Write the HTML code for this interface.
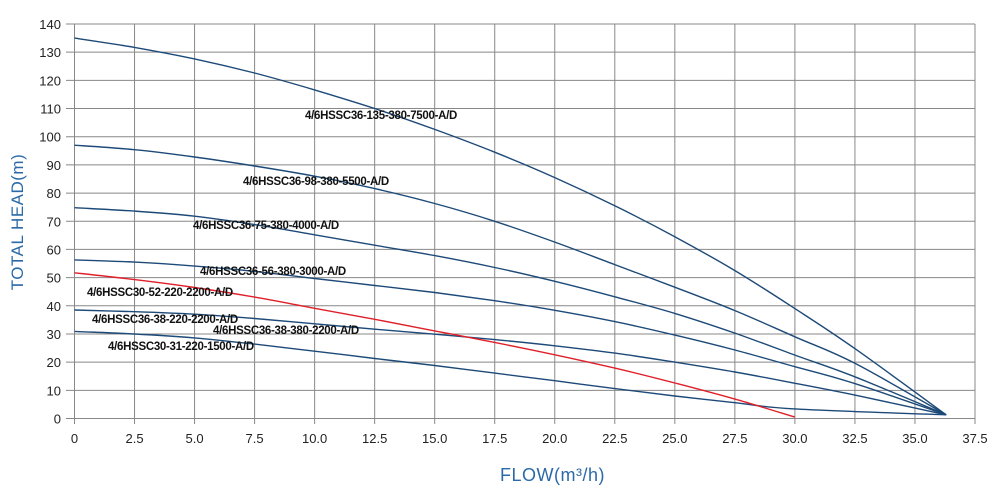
<!DOCTYPE html>
<html><head><meta charset="utf-8"><style>
body{margin:0;background:#fff;}
svg{display:block;font-family:"Liberation Sans",Arial,sans-serif;}
.t{font-size:13px;fill:#222;}
.l{font-size:11.5px;font-weight:bold;fill:#111;letter-spacing:-0.3px;}
</style></head><body>
<svg id="s" width="1000" height="500" viewBox="0 0 1000 500" xmlns="http://www.w3.org/2000/svg">
<g id="grid" stroke="#888" stroke-width="1"></g>
<g id="curves" fill="none" stroke-width="1.4"></g>
<g id="ticks"></g>
<text class="l" x="305" y="119">4/6HSSC36-135-380-7500-A/D</text>
<text class="l" x="243" y="185">4/6HSSC36-98-380-5500-A/D</text>
<text class="l" x="193" y="229">4/6HSSC36-75-380-4000-A/D</text>
<text class="l" x="200" y="275">4/6HSSC36-56-380-3000-A/D</text>
<text class="l" x="87" y="296">4/6HSSC30-52-220-2200-A/D</text>
<text class="l" x="92" y="323">4/6HSSC36-38-220-2200-A/D</text>
<text class="l" x="213" y="334">4/6HSSC36-38-380-2200-A/D</text>
<text class="l" x="108" y="350">4/6HSSC30-31-220-1500-A/D</text>
<text x="23" y="222" transform="rotate(-90 23 222)" text-anchor="middle" style="font-size:17px;fill:#2a6aa8;letter-spacing:0.5px">TOTAL HEAD(m)</text>
<text x="500" y="481" style="font-size:18px;fill:#2a6aa8;letter-spacing:0.5px">FLOW(m³/h)</text>
</svg>
<script>
var ns="http://www.w3.org/2000/svg";
function X(q){return 74.5+q*(975-74.5)/37.5;}
function Y(h){return 418.5-h*(418.5-24)/140;}
var g=document.getElementById('grid'),t=document.getElementById('ticks'),c=document.getElementById('curves');
function el(p,n,a,txt){var e=document.createElementNS(ns,n);for(var k in a)e.setAttribute(k,a[k]);if(txt)e.textContent=txt;p.appendChild(e);return e;}
for(var i=0;i<=15;i++){var x=X(i*2.5);el(g,'line',{x1:x,y1:24,x2:x,y2:424});
el(t,'text',{'class':'t',x:x,y:443,'text-anchor':'middle'},i==0?'0':(i*2.5).toFixed(1));}
for(var j=0;j<=14;j++){var y=Y(j*10);el(g,'line',{x1:66,y1:y,x2:975,y2:y});
el(t,'text',{'class':'t',x:61,y:y+5,'text-anchor':'end'},String(j*10));}
function curve(hs,last,col){
  var P=[];for(var k=0;k<hs.length;k++)P.push([X(k*2.5),Y(hs[k])]);
  if(last)P.push([X(last[0]),Y(last[1])]);
  var d='M'+P[0][0].toFixed(1)+','+P[0][1].toFixed(1);
  for(var k=0;k<P.length-1;k++){
    var p0=P[Math.max(k-1,0)],p1=P[k],p2=P[k+1],p3=P[Math.min(k+2,P.length-1)];
    var c1=[p1[0]+(p2[0]-p0[0])/6,p1[1]+(p2[1]-p0[1])/6];
    var c2=[p2[0]-(p3[0]-p1[0])/6,p2[1]-(p3[1]-p1[1])/6];
    d+='C'+c1[0].toFixed(1)+','+c1[1].toFixed(1)+' '+c2[0].toFixed(1)+','+c2[1].toFixed(1)+' '+p2[0].toFixed(1)+','+p2[1].toFixed(1);
  }
  el(c,'path',{d:d,stroke:col});
}
var B='#1d4a78',E=[36.3,1.3];
curve([135,131.7,127.6,122.6,116.6,110,102.6,94.5,85.5,75.5,64.5,52.5,39,24.8],E,B);
curve([97,95.4,92.8,89.6,86,81.6,76.3,70,62.6,54.6,46.6,38.3,29,19.6],E,B);
curve([74.8,73.6,71.8,68.8,65.2,61.5,57.8,53.6,48.7,43.2,37.3,30.3,22.5,14.8],E,B);
curve([56.3,55.5,54.1,52.2,49.7,47.2,44.7,41.8,38.4,34.4,29.6,24.3,18.4,12.4],E,B);
curve([38.5,37.9,37,35.5,33.6,31.7,29.9,28,25.8,23.2,20,16.5,12.5,8.3],E,B);
curve([30.9,30,28.6,26.4,23.9,21.3,18.8,16.1,13.4,10.6,8,5.6,3.4],E,B);
curve([51.7,49.3,46.5,43.1,39.1,35.2,31.1,27,22.6,17.9,12.6,6.9,0.5],null,'#e0202a');
</script>
</body></html>
